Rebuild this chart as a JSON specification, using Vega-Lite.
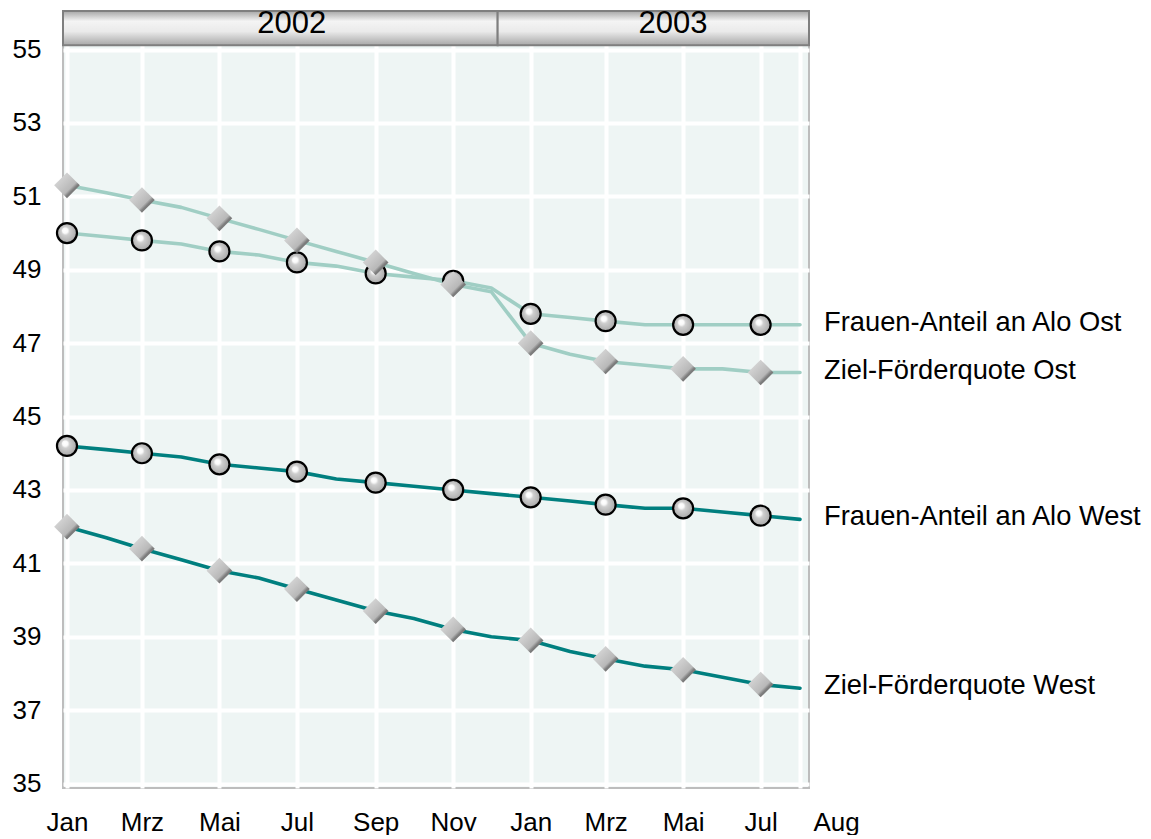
{
  "$schema": "https://vega.github.io/schema/vega-lite/v6.json",
  "width": 746,
  "height": 777,
  "padding": {"left": 12, "top": 7, "right": 0, "bottom": 0},
  "background": "white",
  "config": {
    "font": "Liberation Sans",
    "view": {"stroke": "#BDBDBD", "strokeWidth": 2, "fill": "#EEF5F4"},
    "axis": {"title": null, "domain": false, "ticks": false, "tickSize": 0, "labelFontSize": 26, "labelColor": "#000000", "labelFont": "Liberation Sans", "grid": true, "gridColor": "#FFFFFF", "gridWidth": 4, "gridOpacity": 1, "labelFlush": false, "labelOverlap": false, "labelBound": false}
  },
  "datasets": {
    "years": [
      {"year": "2002", "start": "2001-12-28T21:00:00Z", "end": "2002-12-06T00:00:00Z", "center": "2002-06-27T00:00:00Z"},
      {"year": "2003", "start": "2002-12-06T00:00:00Z", "end": "2003-08-08T02:00:00Z", "center": "2003-04-23T00:00:00Z"}
    ],
    "series": [
      {"series": "Frauen-Anteil an Alo Ost", "date": "2002-01-01", "value": 50.0},
      {"series": "Frauen-Anteil an Alo Ost", "date": "2002-02-01", "value": 49.9},
      {"series": "Frauen-Anteil an Alo Ost", "date": "2002-03-01", "value": 49.8},
      {"series": "Frauen-Anteil an Alo Ost", "date": "2002-04-01", "value": 49.7},
      {"series": "Frauen-Anteil an Alo Ost", "date": "2002-05-01", "value": 49.5},
      {"series": "Frauen-Anteil an Alo Ost", "date": "2002-06-01", "value": 49.4},
      {"series": "Frauen-Anteil an Alo Ost", "date": "2002-07-01", "value": 49.2},
      {"series": "Frauen-Anteil an Alo Ost", "date": "2002-08-01", "value": 49.1},
      {"series": "Frauen-Anteil an Alo Ost", "date": "2002-09-01", "value": 48.9},
      {"series": "Frauen-Anteil an Alo Ost", "date": "2002-10-01", "value": 48.8},
      {"series": "Frauen-Anteil an Alo Ost", "date": "2002-11-01", "value": 48.7},
      {"series": "Frauen-Anteil an Alo Ost", "date": "2002-12-01", "value": 48.5},
      {"series": "Frauen-Anteil an Alo Ost", "date": "2003-01-01", "value": 47.8},
      {"series": "Frauen-Anteil an Alo Ost", "date": "2003-02-01", "value": 47.7},
      {"series": "Frauen-Anteil an Alo Ost", "date": "2003-03-01", "value": 47.6},
      {"series": "Frauen-Anteil an Alo Ost", "date": "2003-04-01", "value": 47.5},
      {"series": "Frauen-Anteil an Alo Ost", "date": "2003-05-01", "value": 47.5},
      {"series": "Frauen-Anteil an Alo Ost", "date": "2003-06-01", "value": 47.5},
      {"series": "Frauen-Anteil an Alo Ost", "date": "2003-07-01", "value": 47.5},
      {"series": "Frauen-Anteil an Alo Ost", "date": "2003-08-01", "value": 47.5},
      {"series": "Ziel-Förderquote Ost", "date": "2002-01-01", "value": 51.3},
      {"series": "Ziel-Förderquote Ost", "date": "2002-02-01", "value": 51.1},
      {"series": "Ziel-Förderquote Ost", "date": "2002-03-01", "value": 50.9},
      {"series": "Ziel-Förderquote Ost", "date": "2002-04-01", "value": 50.7},
      {"series": "Ziel-Förderquote Ost", "date": "2002-05-01", "value": 50.4},
      {"series": "Ziel-Förderquote Ost", "date": "2002-06-01", "value": 50.1},
      {"series": "Ziel-Förderquote Ost", "date": "2002-07-01", "value": 49.8},
      {"series": "Ziel-Förderquote Ost", "date": "2002-08-01", "value": 49.5},
      {"series": "Ziel-Förderquote Ost", "date": "2002-09-01", "value": 49.2},
      {"series": "Ziel-Förderquote Ost", "date": "2002-10-01", "value": 48.9},
      {"series": "Ziel-Förderquote Ost", "date": "2002-11-01", "value": 48.6},
      {"series": "Ziel-Förderquote Ost", "date": "2002-12-01", "value": 48.4},
      {"series": "Ziel-Förderquote Ost", "date": "2003-01-01", "value": 47.0},
      {"series": "Ziel-Förderquote Ost", "date": "2003-02-01", "value": 46.7},
      {"series": "Ziel-Förderquote Ost", "date": "2003-03-01", "value": 46.5},
      {"series": "Ziel-Förderquote Ost", "date": "2003-04-01", "value": 46.4},
      {"series": "Ziel-Förderquote Ost", "date": "2003-05-01", "value": 46.3},
      {"series": "Ziel-Förderquote Ost", "date": "2003-06-01", "value": 46.3},
      {"series": "Ziel-Förderquote Ost", "date": "2003-07-01", "value": 46.2},
      {"series": "Ziel-Förderquote Ost", "date": "2003-08-01", "value": 46.2},
      {"series": "Frauen-Anteil an Alo West", "date": "2002-01-01", "value": 44.2},
      {"series": "Frauen-Anteil an Alo West", "date": "2002-02-01", "value": 44.1},
      {"series": "Frauen-Anteil an Alo West", "date": "2002-03-01", "value": 44.0},
      {"series": "Frauen-Anteil an Alo West", "date": "2002-04-01", "value": 43.9},
      {"series": "Frauen-Anteil an Alo West", "date": "2002-05-01", "value": 43.7},
      {"series": "Frauen-Anteil an Alo West", "date": "2002-06-01", "value": 43.6},
      {"series": "Frauen-Anteil an Alo West", "date": "2002-07-01", "value": 43.5},
      {"series": "Frauen-Anteil an Alo West", "date": "2002-08-01", "value": 43.3},
      {"series": "Frauen-Anteil an Alo West", "date": "2002-09-01", "value": 43.2},
      {"series": "Frauen-Anteil an Alo West", "date": "2002-10-01", "value": 43.1},
      {"series": "Frauen-Anteil an Alo West", "date": "2002-11-01", "value": 43.0},
      {"series": "Frauen-Anteil an Alo West", "date": "2002-12-01", "value": 42.9},
      {"series": "Frauen-Anteil an Alo West", "date": "2003-01-01", "value": 42.8},
      {"series": "Frauen-Anteil an Alo West", "date": "2003-02-01", "value": 42.7},
      {"series": "Frauen-Anteil an Alo West", "date": "2003-03-01", "value": 42.6},
      {"series": "Frauen-Anteil an Alo West", "date": "2003-04-01", "value": 42.5},
      {"series": "Frauen-Anteil an Alo West", "date": "2003-05-01", "value": 42.5},
      {"series": "Frauen-Anteil an Alo West", "date": "2003-06-01", "value": 42.4},
      {"series": "Frauen-Anteil an Alo West", "date": "2003-07-01", "value": 42.3},
      {"series": "Frauen-Anteil an Alo West", "date": "2003-08-01", "value": 42.2},
      {"series": "Ziel-Förderquote West", "date": "2002-01-01", "value": 42.0},
      {"series": "Ziel-Förderquote West", "date": "2002-02-01", "value": 41.7},
      {"series": "Ziel-Förderquote West", "date": "2002-03-01", "value": 41.4},
      {"series": "Ziel-Förderquote West", "date": "2002-04-01", "value": 41.1},
      {"series": "Ziel-Förderquote West", "date": "2002-05-01", "value": 40.8},
      {"series": "Ziel-Förderquote West", "date": "2002-06-01", "value": 40.6},
      {"series": "Ziel-Förderquote West", "date": "2002-07-01", "value": 40.3},
      {"series": "Ziel-Förderquote West", "date": "2002-08-01", "value": 40.0},
      {"series": "Ziel-Förderquote West", "date": "2002-09-01", "value": 39.7},
      {"series": "Ziel-Förderquote West", "date": "2002-10-01", "value": 39.5},
      {"series": "Ziel-Förderquote West", "date": "2002-11-01", "value": 39.2},
      {"series": "Ziel-Förderquote West", "date": "2002-12-01", "value": 39.0},
      {"series": "Ziel-Förderquote West", "date": "2003-01-01", "value": 38.9},
      {"series": "Ziel-Förderquote West", "date": "2003-02-01", "value": 38.6},
      {"series": "Ziel-Förderquote West", "date": "2003-03-01", "value": 38.4},
      {"series": "Ziel-Förderquote West", "date": "2003-04-01", "value": 38.2},
      {"series": "Ziel-Förderquote West", "date": "2003-05-01", "value": 38.1},
      {"series": "Ziel-Förderquote West", "date": "2003-06-01", "value": 37.9},
      {"series": "Ziel-Förderquote West", "date": "2003-07-01", "value": 37.7},
      {"series": "Ziel-Förderquote West", "date": "2003-08-01", "value": 37.6}
    ]
  },
  "layer": [
    {
      "data": {"name": "series", "format": {"parse": {"date": "date"}}},
      "encoding": {
        "x": {
          "field": "date",
          "type": "temporal",
          "scale": {"type": "utc", "domain": [{"year": 2001, "month": 12, "date": 28, "hours": 21, "utc": true}, {"year": 2003, "month": 8, "date": 8, "hours": 2, "utc": true}]},
          "axis": {
            "orient": "bottom",
            "values": [
              {"year": 2002, "month": 1, "date": 1, "utc": true},
              {"year": 2002, "month": 3, "date": 1, "utc": true},
              {"year": 2002, "month": 5, "date": 1, "utc": true},
              {"year": 2002, "month": 7, "date": 1, "utc": true},
              {"year": 2002, "month": 9, "date": 1, "utc": true},
              {"year": 2002, "month": 11, "date": 1, "utc": true},
              {"year": 2003, "month": 1, "date": 1, "utc": true},
              {"year": 2003, "month": 3, "date": 1, "utc": true},
              {"year": 2003, "month": 5, "date": 1, "utc": true},
              {"year": 2003, "month": 7, "date": 1, "utc": true},
              {"year": 2003, "month": 8, "date": 1, "utc": true}
            ],
            "labelExpr": "['Jan','Feb','Mrz','Apr','Mai','Jun','Jul','Aug','Sep','Okt','Nov','Dez'][utcmonth(datum.value)]",
            "labelPadding": 21,
            "labelOffset": {"condition": {"test": "utcmonth(datum.value) == 7", "value": 36}, "value": 0}
          }
        },
        "y": {
          "field": "value",
          "type": "quantitative",
          "scale": {"domain": [34.88, 56.05], "nice": false, "zero": false},
          "axis": {"values": [35, 37, 39, 41, 43, 45, 47, 49, 51, 53, 55], "labelPadding": 22}
        }
      },
      "layer": [
        {
          "mark": {"type": "line", "strokeWidth": 3.6, "strokeCap": "round", "strokeJoin": "round"},
          "encoding": {
            "color": {
              "field": "series",
              "type": "nominal",
              "legend": null,
              "scale": {"domain": ["Frauen-Anteil an Alo Ost", "Ziel-Förderquote Ost", "Frauen-Anteil an Alo West", "Ziel-Förderquote West"], "range": ["#A0CEC4", "#A0CEC4", "#007F7F", "#007F7F"]}
            },
            "detail": {"field": "series"}
          }
        },
        {
          "transform": [{"filter": "utcmonth(datum.date) % 2 == 0 && indexof(datum.series, 'Frauen') == 0"}],
          "mark": {
            "type": "point",
            "shape": "circle",
            "size": 400,
            "filled": true,
            "opacity": 1,
            "fillOpacity": 1,
            "fill": {"gradient": "radial", "x1": 0.38, "y1": 0.34, "r1": 0, "x2": 0.5, "y2": 0.5, "r2": 0.55, "stops": [{"offset": 0, "color": "#FFFFFF"}, {"offset": 0.24, "color": "#FAFAFA"}, {"offset": 0.38, "color": "#CFCFCF"}, {"offset": 1, "color": "#A4A4A4"}]},
            "stroke": "#000000",
            "strokeWidth": 2.2
          }
        },
        {
          "transform": [{"filter": "utcmonth(datum.date) % 2 == 0 && indexof(datum.series, 'Ziel') == 0"}],
          "mark": {
            "type": "point",
            "shape": "diamond",
            "size": 660,
            "filled": true,
            "opacity": 1,
            "fillOpacity": 1,
            "fill": {"gradient": "linear", "x1": 0, "y1": 0, "x2": 1, "y2": 1, "stops": [{"offset": 0, "color": "#E2E2E2"}, {"offset": 0.45, "color": "#C4C4C4"}, {"offset": 0.62, "color": "#B8B8B8"}, {"offset": 0.7, "color": "#7E7E7E"}, {"offset": 1, "color": "#5E5E5E"}]},
            "strokeWidth": 0
          }
        },
        {
          "transform": [{"filter": "utcyear(datum.date) == 2003 && utcmonth(datum.date) == 7"}],
          "mark": {"type": "text", "align": "left", "baseline": "middle", "dx": 24, "dy": -2, "fontSize": 27.3, "font": "Liberation Sans", "color": "#000000"},
          "encoding": {"text": {"field": "series"}}
        }
      ]
    },
    {
      "data": {"name": "years", "format": {"parse": {"start": "date", "end": "date", "center": "date"}}},
      "mark": {
        "type": "rect",
        "stroke": "#7F7F7F",
        "strokeWidth": 2,
        "fill": {"gradient": "linear", "x1": 0, "y1": 0, "x2": 0, "y2": 1, "stops": [{"offset": 0, "color": "#A6A6A6"}, {"offset": 0.3, "color": "#F4F4F4"}, {"offset": 0.6, "color": "#EAEAEA"}, {"offset": 1, "color": "#A8A8A8"}]}
      },
      "encoding": {
        "x": {"field": "start", "type": "temporal"},
        "x2": {"field": "end"},
        "y": {"datum": 55.12, "type": "quantitative"},
        "y2": {"datum": 56.05}
      }
    },
    {
      "data": {"name": "years", "format": {"parse": {"start": "date", "end": "date", "center": "date"}}},
      "mark": {"type": "text", "align": "center", "baseline": "middle", "fontSize": 31, "font": "Liberation Sans", "color": "#000000"},
      "encoding": {
        "x": {"field": "center", "type": "temporal"},
        "y": {"datum": 55.7, "type": "quantitative"},
        "text": {"field": "year"}
      }
    }
  ]
}
